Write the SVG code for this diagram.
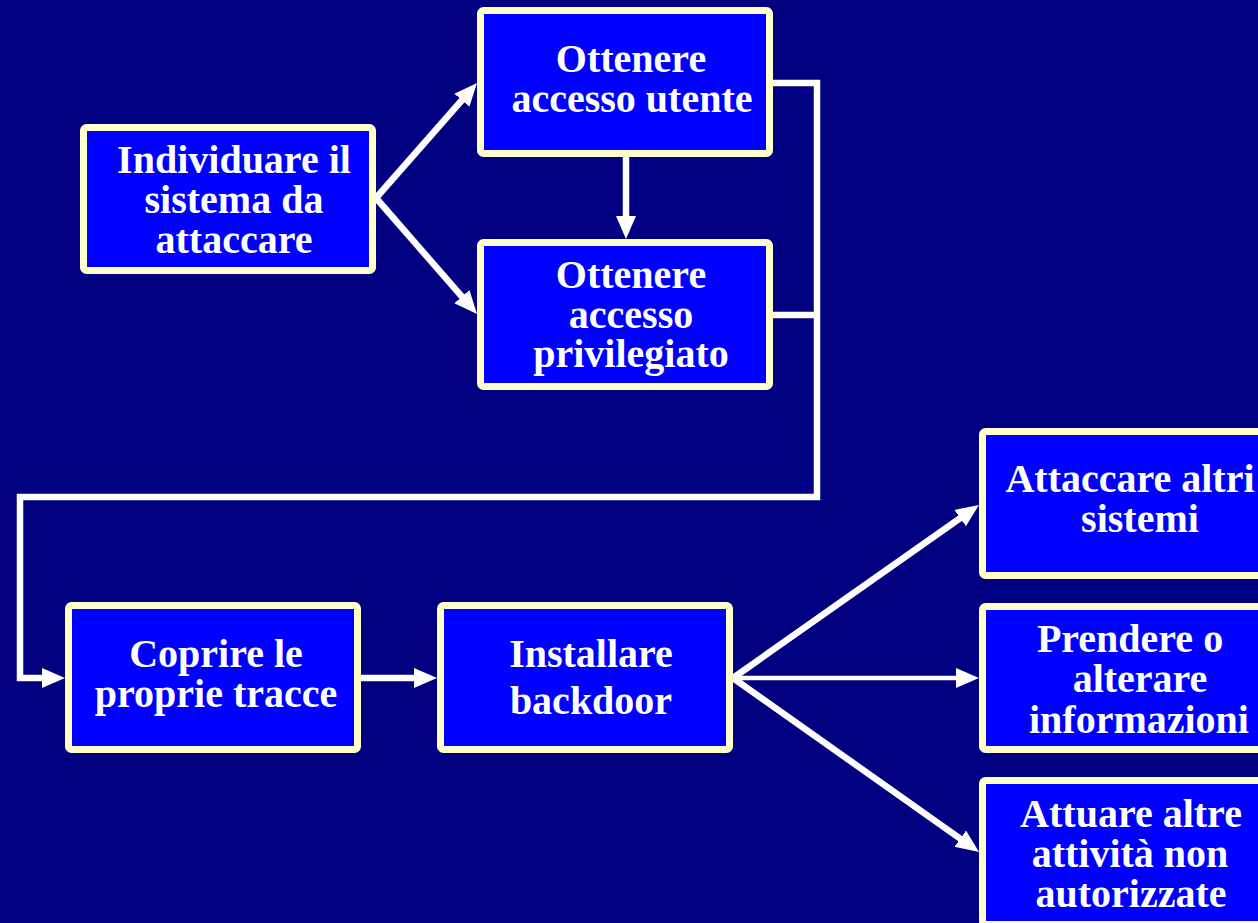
<svg xmlns="http://www.w3.org/2000/svg" width="1258" height="923" viewBox="0 0 1258 923">
<style>
.box{fill:#0000FF;stroke:#FFFFCC;stroke-width:7}
.t{font-family:"Liberation Serif","Times New Roman",serif;font-weight:bold;font-size:40px;fill:#FFFFFF;text-anchor:middle}
.c{fill:none;stroke:#FFFFFF;stroke-width:6.5}
</style>
<defs>
<marker id="ah" markerUnits="userSpaceOnUse" markerWidth="26" markerHeight="22" refX="9" refY="10" orient="auto">
<path d="M0,0 L23,10 L0,20 z" fill="#FFFFFF"/>
</marker>
</defs>
<rect x="0" y="0" width="1258" height="923" fill="#000080"/>
<g id="connectors">
<line class="c" x1="376" y1="198" x2="467.8" y2="93.5" marker-end="url(#ah)"/>
<line class="c" x1="376" y1="198" x2="467.8" y2="303.4" marker-end="url(#ah)"/>
<line class="c" x1="626" y1="157" x2="626" y2="225" marker-end="url(#ah)"/>
<polyline class="c" points="773,83 817,83 817,497 20,497 20,678 51,678" marker-end="url(#ah)"/>
<line class="c" x1="773" y1="315" x2="817" y2="315"/>
<line class="c" x1="361" y1="678" x2="423" y2="678" marker-end="url(#ah)"/>
<line class="c" x1="733" y1="678" x2="967.5" y2="513" marker-end="url(#ah)"/>
<line class="c" x1="733" y1="678" x2="965" y2="678" style="stroke-width:4.5" marker-end="url(#ah)"/>
<line class="c" x1="733" y1="678" x2="967.6" y2="843.9" marker-end="url(#ah)"/>
</g>
<g id="n1">
<rect class="box" x="83.5" y="127.5" width="289" height="143" rx="3"/>
<text class="t" x="234" y="173">Individuare il</text>
<text class="t" x="234" y="213">sistema da</text>
<text class="t" x="234" y="253">attaccare</text>
</g>
<g id="n2">
<rect class="box" x="480.5" y="10.5" width="289" height="143" rx="3"/>
<text class="t" x="631" y="72">Ottenere</text>
<text class="t" x="632" y="112">accesso utente</text>
</g>
<g id="n3">
<rect class="box" x="480.5" y="242.5" width="289" height="144" rx="3"/>
<text class="t" x="631" y="288">Ottenere</text>
<text class="t" x="631" y="328">accesso</text>
<text class="t" x="631" y="367">privilegiato</text>
</g>
<g id="n4">
<rect class="box" x="68.5" y="605.5" width="289" height="144" rx="3"/>
<text class="t" x="216" y="667">Coprire le</text>
<text class="t" x="216" y="707">proprie tracce</text>
</g>
<g id="n5">
<rect class="box" x="440.5" y="605.5" width="289" height="144" rx="3"/>
<text class="t" x="591" y="667">Installare</text>
<text class="t" x="591" y="714">backdoor</text>
</g>
<g id="n6">
<rect class="box" x="982.5" y="431.5" width="289" height="144" rx="3"/>
<text class="t" x="1130" y="492">Attaccare altri</text>
<text class="t" x="1140" y="532">sistemi</text>
</g>
<g id="n7">
<rect class="box" x="982.5" y="606.5" width="289" height="143" rx="3"/>
<text class="t" x="1130" y="652">Prendere o</text>
<text class="t" x="1140" y="692">alterare</text>
<text class="t" x="1139" y="733">informazioni</text>
</g>
<g id="n8">
<rect class="box" x="982.5" y="780.5" width="289" height="144" rx="3"/>
<text class="t" x="1131" y="827">Attuare altre</text>
<text class="t" x="1130" y="867">attività non</text>
<text class="t" x="1131" y="907">autorizzate</text>
</g>
</svg>
